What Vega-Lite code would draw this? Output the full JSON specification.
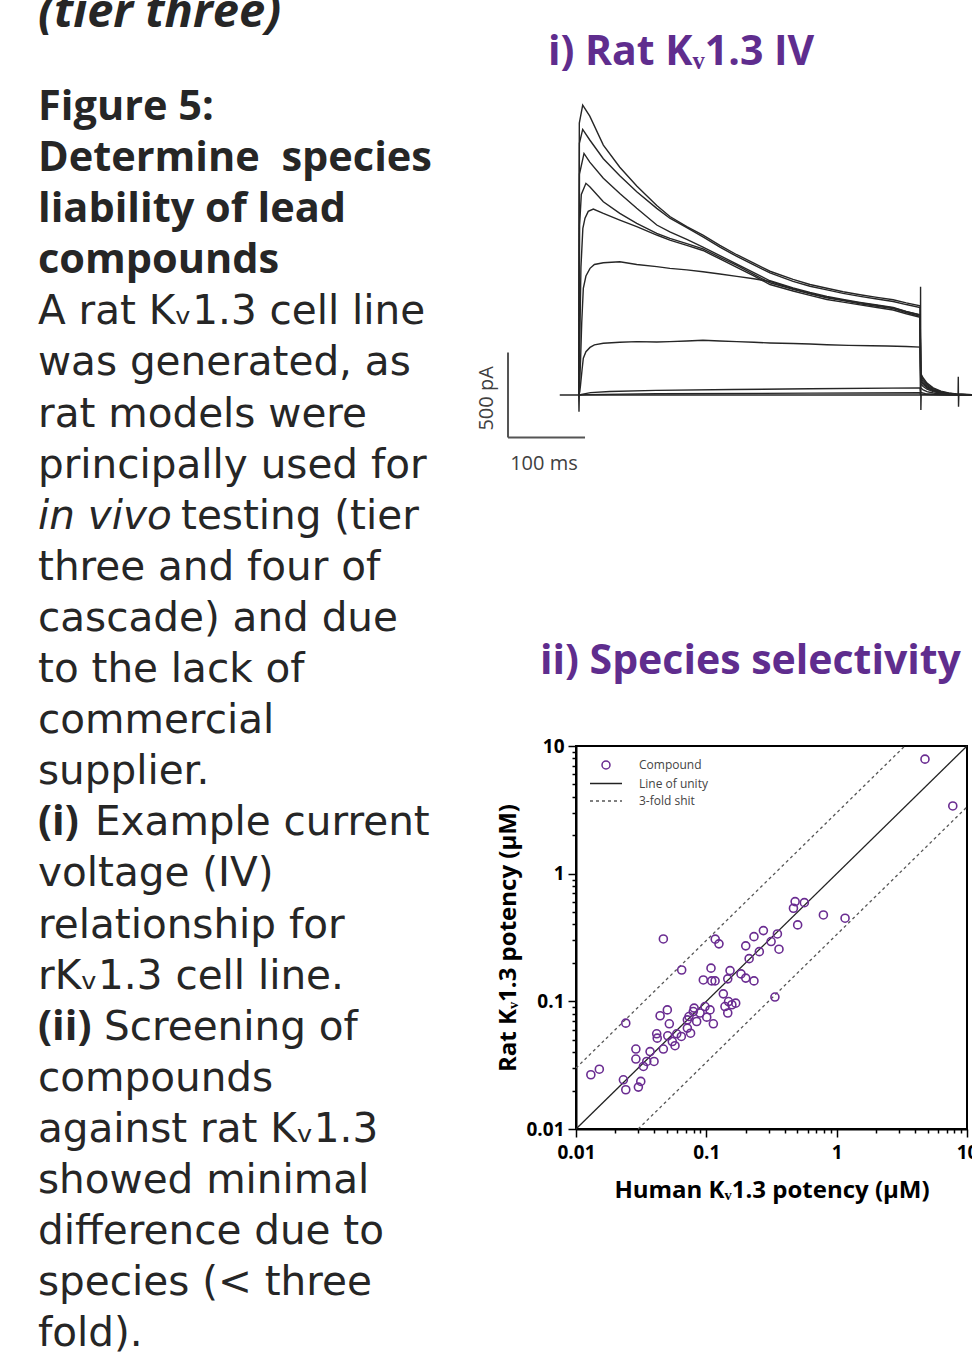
{
  "$schema": "https://vega.github.io/schema/vega-lite/v6.json",
  "padding": 0,
  "background": "white",
  "config": {"view": {"stroke": null}, "font": "Open Sans"},
  "bounds": "flush",
  "spacing": 0,
  "resolve": {"scale": {"color": "independent", "shape": "independent"}, "legend": {"color": "independent", "shape": "independent"}},
  "hconcat": [
    {
      "width": 576,
      "height": 1353,
      "data": {"values": [
        {"line": -1.82, "text": "(tier three)", "role": "headItalic"},
        {"line": 0, "text": "Figure 5:", "role": "head"},
        {"line": 1, "text": "Determine \u00a0species", "role": "head"},
        {"line": 2, "text": "liability of lead", "role": "head"},
        {"line": 3, "text": "compounds", "role": "head"},
        {"line": 4, "text": "A rat Kᵥ1.3 cell line", "role": "body"},
        {"line": 5, "text": "was generated, as", "role": "body"},
        {"line": 6, "text": "rat models were", "role": "body"},
        {"line": 7, "text": "principally used for", "role": "body"},
        {"line": 8, "text": "in vivo", "role": "emph"},
        {"line": 8, "text": "testing (tier", "role": "tail"},
        {"line": 9, "text": "three and four of", "role": "body"},
        {"line": 10, "text": "cascade) and due", "role": "body"},
        {"line": 11, "text": "to the lack of", "role": "body"},
        {"line": 12, "text": "commercial", "role": "body"},
        {"line": 13, "text": "supplier.", "role": "body"},
        {"line": 14, "text": "(i)", "role": "head"},
        {"line": 14, "text": "Example current", "role": "tail"},
        {"line": 15, "text": "voltage (IV)", "role": "body"},
        {"line": 16, "text": "relationship for", "role": "body"},
        {"line": 17, "text": "rKᵥ1.3 cell line.", "role": "body"},
        {"line": 18, "text": "(ii)", "role": "head"},
        {"line": 18, "text": "Screening of", "role": "tail"},
        {"line": 19, "text": "compounds", "role": "body"},
        {"line": 20, "text": "against rat Kᵥ1.3", "role": "body"},
        {"line": 21, "text": "showed minimal", "role": "body"},
        {"line": 22, "text": "difference due to", "role": "body"},
        {"line": 23, "text": "species (< three", "role": "body"},
        {"line": 24, "text": "fold).", "role": "body"}
      ]},
      "encoding": {
        "x": {"datum": 0, "type": "quantitative", "scale": {"domain": [-38, 538], "nice": false, "zero": false}, "axis": null},
        "y": {"field": "line", "type": "quantitative", "scale": {"domain": [-2.3483, 24.1292], "reverse": true, "nice": false, "zero": false}, "axis": null},
        "text": {"field": "text"}
      },
      "layer": [
        {"transform": [{"filter": "datum.role == 'headItalic'"}],
         "mark": {"type": "text", "align": "left", "baseline": "alphabetic", "font": "Open Sans", "fontSize": 47, "fontWeight": "bold", "fontStyle": "italic", "color": "#262626", "clip": true}},
        {"transform": [{"filter": "datum.role == 'head'"}],
         "mark": {"type": "text", "align": "left", "baseline": "alphabetic", "font": "Open Sans", "fontSize": 41.5, "fontWeight": "bold", "color": "#262626", "clip": true}},
        {"transform": [{"filter": "datum.role == 'body'"}],
         "mark": {"type": "text", "align": "left", "baseline": "alphabetic", "font": "DejaVu Sans", "fontSize": 40.5, "color": "#262626", "clip": true}},
        {"transform": [{"filter": "datum.role == 'emph'"}],
         "mark": {"type": "text", "align": "left", "baseline": "alphabetic", "font": "DejaVu Sans", "fontSize": 40.5, "fontStyle": "italic", "color": "#262626", "clip": true}},
        {"transform": [{"filter": "datum.role == 'tail' && datum.line == 8"}],
         "mark": {"type": "text", "align": "left", "baseline": "alphabetic", "font": "DejaVu Sans", "fontSize": 40.5, "dx": 143, "color": "#262626", "clip": true}},
        {"transform": [{"filter": "datum.role == 'tail' && datum.line == 14"}],
         "mark": {"type": "text", "align": "left", "baseline": "alphabetic", "font": "DejaVu Sans", "fontSize": 40.5, "dx": 57, "color": "#262626", "clip": true}},
        {"transform": [{"filter": "datum.role == 'tail' && datum.line == 18"}],
         "mark": {"type": "text", "align": "left", "baseline": "alphabetic", "font": "DejaVu Sans", "fontSize": 40.5, "dx": 66, "color": "#262626", "clip": true}}
      ]
    },
    {
      "bounds": "flush",
      "spacing": 266,
      "resolve": {"scale": {"color": "independent", "shape": "independent"}, "legend": {"color": "independent", "shape": "independent"}},
      "vconcat": [
        {
          "width": 396,
          "height": 480,
          "layer": [
            {
              "data": {"values": [
                {"sweep": "Z", "t": -25, "i": 0}, {"sweep": "Z", "t": -0.4, "i": 0}, {"sweep": "Z", "t": 0, "i": -98}, {"sweep": "Z", "t": 0.4, "i": 0},
                {"sweep": "Z", "t": 100, "i": 0}, {"sweep": "Z", "t": 200, "i": 0}, {"sweep": "Z", "t": 300, "i": 0}, {"sweep": "Z", "t": 443.3, "i": 0},
                {"sweep": "Z", "t": 443.6, "i": 637}, {"sweep": "Z", "t": 444, "i": -88}, {"sweep": "Z", "t": 444.4, "i": 0}, {"sweep": "Z", "t": 492.3, "i": 0},
                {"sweep": "Z", "t": 492.6, "i": 108}, {"sweep": "Z", "t": 492.9, "i": -69}, {"sweep": "Z", "t": 493.3, "i": 0}, {"sweep": "Z", "t": 510, "i": 0},

                {"sweep": "A", "t": -0.2, "i": 0}, {"sweep": "A", "t": 0.4, "i": 1600}, {"sweep": "A", "t": 4.8, "i": 1705}, {"sweep": "A", "t": 14, "i": 1640},
                {"sweep": "A", "t": 31.6, "i": 1470}, {"sweep": "A", "t": 53, "i": 1340}, {"sweep": "A", "t": 75, "i": 1230}, {"sweep": "A", "t": 101, "i": 1115},
                {"sweep": "A", "t": 118, "i": 1050}, {"sweep": "A", "t": 140, "i": 990}, {"sweep": "A", "t": 161, "i": 940}, {"sweep": "A", "t": 183, "i": 880},
                {"sweep": "A", "t": 205, "i": 825}, {"sweep": "A", "t": 227, "i": 775}, {"sweep": "A", "t": 248, "i": 728}, {"sweep": "A", "t": 278, "i": 680},
                {"sweep": "A", "t": 300, "i": 650}, {"sweep": "A", "t": 322, "i": 628}, {"sweep": "A", "t": 343, "i": 607}, {"sweep": "A", "t": 365, "i": 590},
                {"sweep": "A", "t": 387, "i": 574}, {"sweep": "A", "t": 408, "i": 560}, {"sweep": "A", "t": 425, "i": 542}, {"sweep": "A", "t": 443, "i": 525},
                {"sweep": "A", "t": 443.8, "i": 127}, {"sweep": "A", "t": 447, "i": 100}, {"sweep": "A", "t": 452, "i": 70}, {"sweep": "A", "t": 460, "i": 42},
                {"sweep": "A", "t": 470, "i": 22}, {"sweep": "A", "t": 480, "i": 12}, {"sweep": "A", "t": 490, "i": 6}, {"sweep": "A", "t": 510, "i": 2},

                {"sweep": "B", "t": -0.2, "i": 0}, {"sweep": "B", "t": 0.5, "i": 1480}, {"sweep": "B", "t": 4.8, "i": 1562}, {"sweep": "B", "t": 14, "i": 1500},
                {"sweep": "B", "t": 31.6, "i": 1390}, {"sweep": "B", "t": 53, "i": 1290}, {"sweep": "B", "t": 75, "i": 1195}, {"sweep": "B", "t": 101, "i": 1098},
                {"sweep": "B", "t": 118, "i": 1040}, {"sweep": "B", "t": 140, "i": 985}, {"sweep": "B", "t": 161, "i": 930}, {"sweep": "B", "t": 183, "i": 870},
                {"sweep": "B", "t": 205, "i": 815}, {"sweep": "B", "t": 227, "i": 765}, {"sweep": "B", "t": 248, "i": 718}, {"sweep": "B", "t": 278, "i": 668},
                {"sweep": "B", "t": 300, "i": 640}, {"sweep": "B", "t": 322, "i": 618}, {"sweep": "B", "t": 343, "i": 598}, {"sweep": "B", "t": 365, "i": 580},
                {"sweep": "B", "t": 387, "i": 565}, {"sweep": "B", "t": 408, "i": 550}, {"sweep": "B", "t": 425, "i": 532}, {"sweep": "B", "t": 443, "i": 515},
                {"sweep": "B", "t": 443.8, "i": 115}, {"sweep": "B", "t": 447, "i": 90}, {"sweep": "B", "t": 452, "i": 63}, {"sweep": "B", "t": 460, "i": 37},
                {"sweep": "B", "t": 470, "i": 20}, {"sweep": "B", "t": 480, "i": 11}, {"sweep": "B", "t": 490, "i": 5}, {"sweep": "B", "t": 510, "i": 2},

                {"sweep": "C", "t": -0.2, "i": 0}, {"sweep": "C", "t": 0.6, "i": 1300}, {"sweep": "C", "t": 6.5, "i": 1421}, {"sweep": "C", "t": 14, "i": 1370},
                {"sweep": "C", "t": 31.6, "i": 1275}, {"sweep": "C", "t": 53, "i": 1185}, {"sweep": "C", "t": 75, "i": 1098}, {"sweep": "C", "t": 101, "i": 1000},
                {"sweep": "C", "t": 118, "i": 960}, {"sweep": "C", "t": 140, "i": 915}, {"sweep": "C", "t": 161, "i": 870}, {"sweep": "C", "t": 183, "i": 820},
                {"sweep": "C", "t": 205, "i": 770}, {"sweep": "C", "t": 227, "i": 720}, {"sweep": "C", "t": 248, "i": 672}, {"sweep": "C", "t": 278, "i": 630},
                {"sweep": "C", "t": 300, "i": 603}, {"sweep": "C", "t": 322, "i": 580}, {"sweep": "C", "t": 343, "i": 562}, {"sweep": "C", "t": 365, "i": 545},
                {"sweep": "C", "t": 387, "i": 530}, {"sweep": "C", "t": 408, "i": 515}, {"sweep": "C", "t": 425, "i": 492}, {"sweep": "C", "t": 443, "i": 472},
                {"sweep": "C", "t": 443.8, "i": 100}, {"sweep": "C", "t": 447, "i": 80}, {"sweep": "C", "t": 452, "i": 55}, {"sweep": "C", "t": 460, "i": 32},
                {"sweep": "C", "t": 470, "i": 17}, {"sweep": "C", "t": 480, "i": 9}, {"sweep": "C", "t": 490, "i": 4}, {"sweep": "C", "t": 510, "i": 1},

                {"sweep": "D", "t": -0.2, "i": 0}, {"sweep": "D", "t": 0.8, "i": 1000}, {"sweep": "D", "t": 3, "i": 1180}, {"sweep": "D", "t": 9, "i": 1245},
                {"sweep": "D", "t": 14, "i": 1225}, {"sweep": "D", "t": 31.6, "i": 1137}, {"sweep": "D", "t": 53, "i": 1068}, {"sweep": "D", "t": 75, "i": 1010},
                {"sweep": "D", "t": 101, "i": 951}, {"sweep": "D", "t": 118, "i": 921}, {"sweep": "D", "t": 140, "i": 890}, {"sweep": "D", "t": 161, "i": 860},
                {"sweep": "D", "t": 183, "i": 810}, {"sweep": "D", "t": 205, "i": 762}, {"sweep": "D", "t": 227, "i": 710}, {"sweep": "D", "t": 248, "i": 660},
                {"sweep": "D", "t": 278, "i": 622}, {"sweep": "D", "t": 300, "i": 595}, {"sweep": "D", "t": 322, "i": 572}, {"sweep": "D", "t": 343, "i": 555},
                {"sweep": "D", "t": 365, "i": 537}, {"sweep": "D", "t": 387, "i": 522}, {"sweep": "D", "t": 408, "i": 508}, {"sweep": "D", "t": 425, "i": 485},
                {"sweep": "D", "t": 443, "i": 463}, {"sweep": "D", "t": 443.8, "i": 90}, {"sweep": "D", "t": 447, "i": 70}, {"sweep": "D", "t": 452, "i": 48},
                {"sweep": "D", "t": 460, "i": 28}, {"sweep": "D", "t": 470, "i": 15}, {"sweep": "D", "t": 480, "i": 8}, {"sweep": "D", "t": 490, "i": 4}, {"sweep": "D", "t": 510, "i": 1},

                {"sweep": "E", "t": -0.2, "i": 0}, {"sweep": "E", "t": 1, "i": 300}, {"sweep": "E", "t": 2.5, "i": 750}, {"sweep": "E", "t": 5, "i": 980},
                {"sweep": "E", "t": 7.8, "i": 1040}, {"sweep": "E", "t": 12, "i": 1080}, {"sweep": "E", "t": 18.6, "i": 1094}, {"sweep": "E", "t": 31.6, "i": 1068},
                {"sweep": "E", "t": 53, "i": 1029}, {"sweep": "E", "t": 75, "i": 990}, {"sweep": "E", "t": 101, "i": 941}, {"sweep": "E", "t": 118, "i": 911},
                {"sweep": "E", "t": 140, "i": 880}, {"sweep": "E", "t": 161, "i": 850}, {"sweep": "E", "t": 183, "i": 800}, {"sweep": "E", "t": 205, "i": 750},
                {"sweep": "E", "t": 227, "i": 700}, {"sweep": "E", "t": 248, "i": 650}, {"sweep": "E", "t": 278, "i": 612}, {"sweep": "E", "t": 300, "i": 586},
                {"sweep": "E", "t": 322, "i": 562}, {"sweep": "E", "t": 343, "i": 546}, {"sweep": "E", "t": 365, "i": 530}, {"sweep": "E", "t": 387, "i": 515},
                {"sweep": "E", "t": 408, "i": 500}, {"sweep": "E", "t": 425, "i": 478}, {"sweep": "E", "t": 443, "i": 457}, {"sweep": "E", "t": 443.8, "i": 80},
                {"sweep": "E", "t": 447, "i": 62}, {"sweep": "E", "t": 452, "i": 42}, {"sweep": "E", "t": 460, "i": 25}, {"sweep": "E", "t": 470, "i": 13},
                {"sweep": "E", "t": 480, "i": 7}, {"sweep": "E", "t": 490, "i": 3}, {"sweep": "E", "t": 510, "i": 1},

                {"sweep": "F", "t": -0.2, "i": 0}, {"sweep": "F", "t": 1, "i": 80}, {"sweep": "F", "t": 2, "i": 200}, {"sweep": "F", "t": 3.5, "i": 420},
                {"sweep": "F", "t": 5.6, "i": 627}, {"sweep": "F", "t": 9, "i": 700}, {"sweep": "F", "t": 14.3, "i": 745}, {"sweep": "F", "t": 20, "i": 768},
                {"sweep": "F", "t": 31.6, "i": 778}, {"sweep": "F", "t": 53, "i": 784}, {"sweep": "F", "t": 75, "i": 768}, {"sweep": "F", "t": 101, "i": 755},
                {"sweep": "F", "t": 118, "i": 745}, {"sweep": "F", "t": 140, "i": 736}, {"sweep": "F", "t": 161, "i": 725}, {"sweep": "F", "t": 183, "i": 712},
                {"sweep": "F", "t": 205, "i": 698}, {"sweep": "F", "t": 227, "i": 684}, {"sweep": "F", "t": 248, "i": 668}, {"sweep": "F", "t": 278, "i": 625},
                {"sweep": "F", "t": 300, "i": 598}, {"sweep": "F", "t": 322, "i": 575}, {"sweep": "F", "t": 343, "i": 558}, {"sweep": "F", "t": 365, "i": 542},
                {"sweep": "F", "t": 387, "i": 527}, {"sweep": "F", "t": 408, "i": 512}, {"sweep": "F", "t": 425, "i": 490}, {"sweep": "F", "t": 443, "i": 470},
                {"sweep": "F", "t": 443.8, "i": 65}, {"sweep": "F", "t": 447, "i": 50}, {"sweep": "F", "t": 452, "i": 34}, {"sweep": "F", "t": 460, "i": 20},
                {"sweep": "F", "t": 470, "i": 10}, {"sweep": "F", "t": 480, "i": 5}, {"sweep": "F", "t": 490, "i": 2}, {"sweep": "F", "t": 510, "i": 0},

                {"sweep": "G", "t": -0.2, "i": 0}, {"sweep": "G", "t": 1, "i": 20}, {"sweep": "G", "t": 2, "i": 60}, {"sweep": "G", "t": 4, "i": 150},
                {"sweep": "G", "t": 5.6, "i": 216}, {"sweep": "G", "t": 9, "i": 255}, {"sweep": "G", "t": 14.3, "i": 280}, {"sweep": "G", "t": 20, "i": 295},
                {"sweep": "G", "t": 31.6, "i": 304}, {"sweep": "G", "t": 53, "i": 310}, {"sweep": "G", "t": 75, "i": 314}, {"sweep": "G", "t": 101, "i": 312},
                {"sweep": "G", "t": 118, "i": 314}, {"sweep": "G", "t": 140, "i": 318}, {"sweep": "G", "t": 161, "i": 322}, {"sweep": "G", "t": 183, "i": 318},
                {"sweep": "G", "t": 205, "i": 314}, {"sweep": "G", "t": 227, "i": 310}, {"sweep": "G", "t": 248, "i": 306}, {"sweep": "G", "t": 278, "i": 303},
                {"sweep": "G", "t": 300, "i": 300}, {"sweep": "G", "t": 322, "i": 296}, {"sweep": "G", "t": 350, "i": 292}, {"sweep": "G", "t": 380, "i": 290},
                {"sweep": "G", "t": 400, "i": 288}, {"sweep": "G", "t": 425, "i": 285}, {"sweep": "G", "t": 443, "i": 282}, {"sweep": "G", "t": 443.8, "i": 40},
                {"sweep": "G", "t": 447, "i": 30}, {"sweep": "G", "t": 452, "i": 20}, {"sweep": "G", "t": 460, "i": 12}, {"sweep": "G", "t": 470, "i": 6},
                {"sweep": "G", "t": 480, "i": 3}, {"sweep": "G", "t": 490, "i": 1}, {"sweep": "G", "t": 510, "i": 0},

                {"sweep": "H", "t": -0.2, "i": 0}, {"sweep": "H", "t": 5, "i": 5}, {"sweep": "H", "t": 15, "i": 14}, {"sweep": "H", "t": 40, "i": 21},
                {"sweep": "H", "t": 100, "i": 27}, {"sweep": "H", "t": 200, "i": 32}, {"sweep": "H", "t": 300, "i": 37}, {"sweep": "H", "t": 443, "i": 42},
                {"sweep": "H", "t": 443.8, "i": 15}, {"sweep": "H", "t": 450, "i": 8}, {"sweep": "H", "t": 460, "i": 4}, {"sweep": "H", "t": 480, "i": 1}, {"sweep": "H", "t": 510, "i": 0},

                {"sweep": "I", "t": -0.2, "i": 0}, {"sweep": "I", "t": 10, "i": 2}, {"sweep": "I", "t": 100, "i": 7}, {"sweep": "I", "t": 300, "i": 11},
                {"sweep": "I", "t": 443, "i": 13}, {"sweep": "I", "t": 443.8, "i": 6}, {"sweep": "I", "t": 455, "i": 2}, {"sweep": "I", "t": 480, "i": 0}, {"sweep": "I", "t": 510, "i": 0}
              ]},
              "mark": {"type": "line", "color": "#262626", "strokeWidth": 1.4},
              "encoding": {
                "x": {"field": "t", "type": "quantitative", "scale": {"domain": [-3.9, 510.4], "nice": false, "zero": false}, "axis": null},
                "y": {"field": "i", "type": "quantitative", "scale": {"domain": [-500, 2323.5], "nice": false, "zero": false}, "axis": null},
                "detail": {"field": "sweep"}
              }
            },
            {
              "data": {"values": [
                {"bar": "500 pA", "t1": -92.2, "t2": -92.2, "i1": -250, "i2": 250},
                {"bar": "100 ms", "t1": -92.2, "t2": 7.8, "i1": -250, "i2": -250}
              ]},
              "mark": {"type": "rule", "color": "#555555", "strokeWidth": 2},
              "encoding": {
                "x": {"field": "t1", "type": "quantitative"},
                "x2": {"field": "t2"},
                "y": {"field": "i1", "type": "quantitative"},
                "y2": {"field": "i2"}
              }
            },
            {
              "data": {"values": [{"label": "500 pA"}]},
              "mark": {"type": "text", "angle": 270, "align": "center", "baseline": "middle", "font": "Open Sans", "fontSize": 20, "color": "#404040"},
              "encoding": {"x": {"datum": -120}, "y": {"datum": -20}, "text": {"field": "label"}}
            },
            {
              "data": {"values": [{"label": "100 ms"}]},
              "mark": {"type": "text", "align": "center", "baseline": "alphabetic", "font": "Open Sans", "fontSize": 20, "color": "#404040"},
              "encoding": {"x": {"datum": -45.5}, "y": {"datum": -441}, "text": {"field": "label"}}
            },
            {
              "data": {"values": [{"label": "i) Rat Kᵥ1.3 IV"}]},
              "mark": {"type": "text", "align": "left", "baseline": "alphabetic", "font": "Open Sans", "fontSize": 41, "fontWeight": "bold", "color": "#5f2d8e"},
              "encoding": {"x": {"datum": -40.3}, "y": {"datum": 1941}, "text": {"field": "label"}}
            }
          ]
        },
        {
          "width": 391,
          "height": 383,
          "view": {"stroke": "black", "strokeWidth": 2},
          "title": {"text": "ii) Species selectivity", "anchor": "start", "frame": "group", "dx": -36, "offset": 22, "baseline": "alphabetic", "font": "Open Sans", "fontSize": 41, "fontWeight": "bold", "color": "#5f2d8e"},
          "encoding": {
            "x": {
              "field": "x", "type": "quantitative",
              "scale": {"type": "log", "domain": [0.01, 10], "nice": false},
              "axis": {
                "values": [0.01,0.02,0.03,0.04,0.05,0.06,0.07,0.08,0.09,0.1,0.2,0.3,0.4,0.5,0.6,0.7,0.8,0.9,1,2,3,4,5,6,7,8,9,10],
                "format": "~g",
                "labelExpr": "(datum.value == 0.01 || datum.value == 0.1 || datum.value == 1 || datum.value == 10) ? datum.label : ''",
                "tickSize": {"condition": {"test": "datum.value == 0.01 || datum.value == 0.1 || datum.value == 1 || datum.value == 10", "value": 8}, "value": 4},
                "tickWidth": 1.5, "tickColor": "black", "domainColor": "black", "domainWidth": 2,
                "labelFont": "Open Sans", "labelFontSize": 19, "labelFontWeight": "bold", "labelColor": "black", "labelPadding": 6, "labelOverlap": false, "labelFlush": false,
                "title": "Human Kᵥ1.3 potency (μM)", "titleFont": "Open Sans", "titleFontSize": 24, "titleFontWeight": "bold", "titleColor": "black", "titlePadding": 16,
                "grid": false
              }
            },
            "y": {
              "field": "y", "type": "quantitative",
              "scale": {"type": "log", "domain": [0.01, 10], "nice": false},
              "axis": {
                "values": [0.01,0.02,0.03,0.04,0.05,0.06,0.07,0.08,0.09,0.1,0.2,0.3,0.4,0.5,0.6,0.7,0.8,0.9,1,2,3,4,5,6,7,8,9,10],
                "format": "~g",
                "labelExpr": "(datum.value == 0.01 || datum.value == 0.1 || datum.value == 1 || datum.value == 10) ? datum.label : ''",
                "tickSize": {"condition": {"test": "datum.value == 0.01 || datum.value == 0.1 || datum.value == 1 || datum.value == 10", "value": 8}, "value": 4},
                "tickWidth": 1.5, "tickColor": "black", "domainColor": "black", "domainWidth": 2,
                "labelFont": "Open Sans", "labelFontSize": 19, "labelFontWeight": "bold", "labelColor": "black", "labelPadding": 4, "labelOverlap": false, "labelFlush": false,
                "title": "Rat Kᵥ1.3 potency (μM)", "titleFont": "Open Sans", "titleFontSize": 24, "titleFontWeight": "bold", "titleColor": "black", "titlePadding": 5,
                "grid": false
              }
            }
          },
          "layer": [
            {
              "data": {"values": [
                {"kind": "Line of unity", "x": 0.01, "y": 0.01, "x2": 10, "y2": 10},
                {"kind": "3-fold shit", "x": 0.01, "y": 0.03, "x2": 3.333, "y2": 10},
                {"kind": "3-fold shit", "x": 0.03, "y": 0.01, "x2": 10, "y2": 3.333}
              ]},
              "layer": [
                {"transform": [{"filter": "datum.kind == 'Line of unity'"}],
                 "mark": {"type": "rule", "color": "#222222", "strokeWidth": 1.3},
                 "encoding": {"x2": {"field": "x2"}, "y2": {"field": "y2"}}},
                {"transform": [{"filter": "datum.kind == '3-fold shit'"}],
                 "mark": {"type": "rule", "color": "#555555", "strokeWidth": 1.3, "strokeDash": [3, 3]},
                 "encoding": {"x2": {"field": "x2"}, "y2": {"field": "y2"}}}
              ]
            },
            {
              "data": {"values": [
                {"kind": "Compound", "x": 0.0468, "y": 0.308}, {"kind": "Compound", "x": 0.117, "y": 0.307}, {"kind": "Compound", "x": 0.125, "y": 0.282},
                {"kind": "Compound", "x": 0.0647, "y": 0.176}, {"kind": "Compound", "x": 0.0241, "y": 0.0675}, {"kind": "Compound", "x": 0.013, "y": 0.0266},
                {"kind": "Compound", "x": 0.0151, "y": 0.0294}, {"kind": "Compound", "x": 0.0231, "y": 0.0243}, {"kind": "Compound", "x": 0.0241, "y": 0.0203},
                {"kind": "Compound", "x": 0.0301, "y": 0.0213}, {"kind": "Compound", "x": 0.0314, "y": 0.0236}, {"kind": "Compound", "x": 0.0288, "y": 0.0423},
                {"kind": "Compound", "x": 0.0288, "y": 0.0353}, {"kind": "Compound", "x": 0.0329, "y": 0.0309}, {"kind": "Compound", "x": 0.0349, "y": 0.0338},
                {"kind": "Compound", "x": 0.037, "y": 0.0404}, {"kind": "Compound", "x": 0.0397, "y": 0.0338}, {"kind": "Compound", "x": 0.0416, "y": 0.0557},
                {"kind": "Compound", "x": 0.042, "y": 0.0515}, {"kind": "Compound", "x": 0.0442, "y": 0.0771}, {"kind": "Compound", "x": 0.0502, "y": 0.0857},
                {"kind": "Compound", "x": 0.052, "y": 0.0667}, {"kind": "Compound", "x": 0.0468, "y": 0.0423}, {"kind": "Compound", "x": 0.0506, "y": 0.0537},
                {"kind": "Compound", "x": 0.0548, "y": 0.0484}, {"kind": "Compound", "x": 0.0575, "y": 0.0449}, {"kind": "Compound", "x": 0.0593, "y": 0.0557},
                {"kind": "Compound", "x": 0.0643, "y": 0.0531}, {"kind": "Compound", "x": 0.0715, "y": 0.0617}, {"kind": "Compound", "x": 0.0757, "y": 0.0563},
                {"kind": "Compound", "x": 0.0715, "y": 0.0716}, {"kind": "Compound", "x": 0.0736, "y": 0.076}, {"kind": "Compound", "x": 0.0794, "y": 0.0832},
                {"kind": "Compound", "x": 0.0806, "y": 0.0885}, {"kind": "Compound", "x": 0.0843, "y": 0.0695}, {"kind": "Compound", "x": 0.0895, "y": 0.081},
                {"kind": "Compound", "x": 0.0977, "y": 0.091}, {"kind": "Compound", "x": 0.1007, "y": 0.0752}, {"kind": "Compound", "x": 0.1067, "y": 0.0857},
                {"kind": "Compound", "x": 0.1132, "y": 0.0667}, {"kind": "Compound", "x": 0.0948, "y": 0.147}, {"kind": "Compound", "x": 0.1086, "y": 0.182},
                {"kind": "Compound", "x": 0.11, "y": 0.1446}, {"kind": "Compound", "x": 0.1167, "y": 0.1446}, {"kind": "Compound", "x": 0.135, "y": 0.1145},
                {"kind": "Compound", "x": 0.146, "y": 0.15}, {"kind": "Compound", "x": 0.152, "y": 0.174}, {"kind": "Compound", "x": 0.139, "y": 0.091},
                {"kind": "Compound", "x": 0.148, "y": 0.0996}, {"kind": "Compound", "x": 0.146, "y": 0.081}, {"kind": "Compound", "x": 0.157, "y": 0.094},
                {"kind": "Compound", "x": 0.168, "y": 0.0968}, {"kind": "Compound", "x": 0.1845, "y": 0.164}, {"kind": "Compound", "x": 0.2006, "y": 0.152},
                {"kind": "Compound", "x": 0.232, "y": 0.1446}, {"kind": "Compound", "x": 0.213, "y": 0.216}, {"kind": "Compound", "x": 0.2006, "y": 0.272},
                {"kind": "Compound", "x": 0.232, "y": 0.321}, {"kind": "Compound", "x": 0.255, "y": 0.245}, {"kind": "Compound", "x": 0.274, "y": 0.358},
                {"kind": "Compound", "x": 0.314, "y": 0.294}, {"kind": "Compound", "x": 0.351, "y": 0.337}, {"kind": "Compound", "x": 0.361, "y": 0.256},
                {"kind": "Compound", "x": 0.336, "y": 0.108}, {"kind": "Compound", "x": 0.466, "y": 0.536}, {"kind": "Compound", "x": 0.48, "y": 0.604},
                {"kind": "Compound", "x": 0.565, "y": 0.593}, {"kind": "Compound", "x": 0.502, "y": 0.397}, {"kind": "Compound", "x": 4.76, "y": 7.89},
                {"kind": "Compound", "x": 7.78, "y": 3.39}, {"kind": "Compound", "x": 0.791, "y": 0.475}, {"kind": "Compound", "x": 1.16, "y": 0.448}
              ]},
              "mark": {"type": "point", "filled": false, "size": 64, "strokeWidth": 1.6, "opacity": 1},
              "encoding": {
                "shape": {
                  "field": "kind", "type": "nominal",
                  "scale": {"domain": ["Compound", "Line of unity", "3-fold shit"], "range": ["circle", "M-4,0L4,0", "M-4,0L-3.25,0M-2.5,0L-1.75,0M-1,0L-0.25,0M0.5,0L1.25,0M2,0L2.75,0M3.5,0L4,0"]},
                  "legend": {"title": null, "orient": "none", "legendX": 24, "legendY": 13, "symbolSize": 64, "symbolStrokeWidth": 1.5, "symbolFillColor": "transparent", "labelFont": "Open Sans", "labelFontSize": 12, "labelColor": "#444444", "labelOffset": 27, "rowPadding": 5.5, "padding": 0}
                },
                "color": {
                  "field": "kind", "type": "nominal",
                  "scale": {"domain": ["Compound", "Line of unity", "3-fold shit"], "range": ["#6a2c91", "#222222", "#555555"]},
                  "legend": {"title": null, "orient": "none", "legendX": 24, "legendY": 13, "symbolSize": 64, "symbolStrokeWidth": 1.5, "symbolFillColor": "transparent", "labelFont": "Open Sans", "labelFontSize": 12, "labelColor": "#444444", "labelOffset": 27, "rowPadding": 5.5, "padding": 0}
                }
              }
            }
          ]
        }
      ]
    }
  ]
}
